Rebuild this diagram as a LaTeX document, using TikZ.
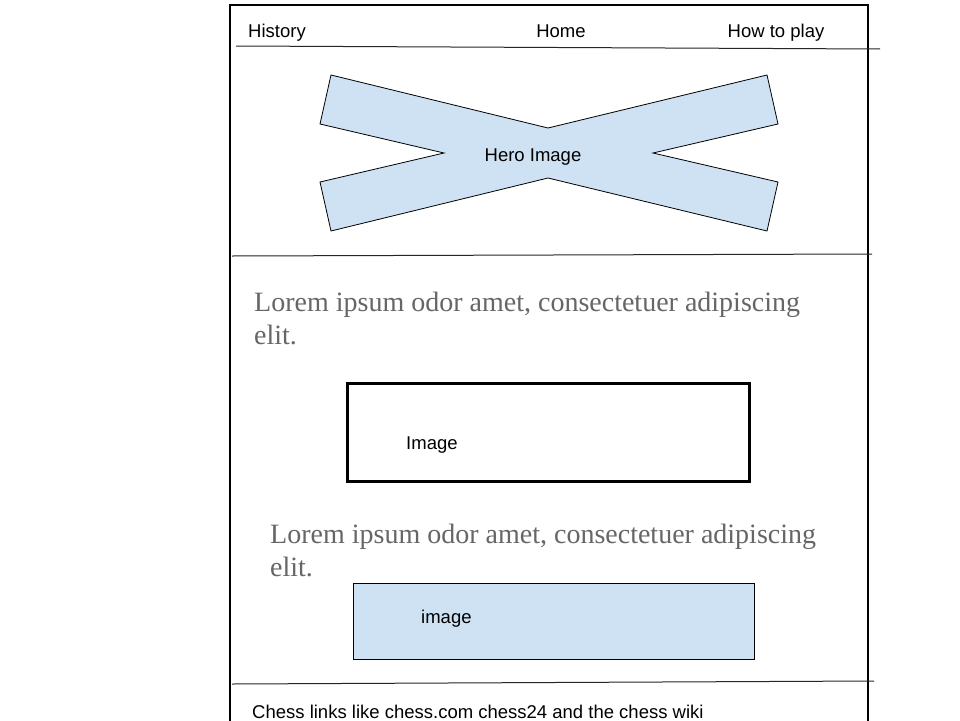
\documentclass[tikz,border=0pt]{standalone}
\usepackage{fontspec}
\setmainfont{Liberation Sans}
\newfontfamily\loremfont{Liberation Serif}
\definecolor{lightblue}{HTML}{CFE2F3}
\definecolor{loremgray}{HTML}{666666}
\begin{document}
\begin{tikzpicture}[x=1pt,y=-1pt,
  navtext/.style={font=\fontsize{18.5}{21}\selectfont, inner sep=0pt},
  lorem/.style={font=\loremfont\fontsize{28}{33}\selectfont, text=loremgray, align=left, inner sep=0pt},
  divider/.style={line width=1pt, black!85},
  frameline/.style={line width=2.8pt},
  imgbox/.style={draw, line width=2.5pt, fill=white},
  bluebox/.style={draw, line width=0.8pt, fill=lightblue}]
\useasboundingbox (0,0) rectangle (960,720);
\fill[white] (0,0) rectangle (960,720);
% outer frame
\draw[frameline] (230,722) -- (230,5) -- (868,5) -- (868,722);
% nav
\node[navtext, anchor=base west] (hist) at (248,37) {History};
\node[navtext, anchor=base] (home) at (561,37) {Home};
\node[navtext, anchor=base] (how) at (776,37) {How to play};
\coordinate (n1) at (236,46);
\coordinate (n2) at (880,49);
\draw[divider] (n1) -- (n2);
% hero
\draw[line width=0.8pt, fill=lightblue] (331,75) -- (548,128) -- (767,75) -- (778,124) -- (653,153) -- (778,182) -- (767,231) -- (548,178) -- (331,231) -- (320,182) -- (444,153) -- (320,124) -- cycle;
\node[navtext] (hero) at (533,157) {Hero Image};
\coordinate (d1) at (232,256);
\coordinate (d2) at (872,254);
\draw[divider] (d1) -- (d2);
% lorem 1
\node[lorem, anchor=base west] (lorem1) at (254,344) {Lorem ipsum odor amet, consectetuer adipiscing\\elit.};
% image box 1
\node[imgbox, minimum width=402pt, minimum height=98pt, anchor=north west] (img1) at (346,382) {};
\node[navtext, anchor=west] (img1t) at (406,445) {Image};
% lorem 2
\node[lorem, anchor=base west] (lorem2) at (270,576) {Lorem ipsum odor amet, consectetuer adipiscing\\elit.};
% image box 2
\node[bluebox, minimum width=401pt, minimum height=76pt, anchor=north west] (img2) at (353,583) {};
\node[navtext, anchor=west] (img2t) at (421,619) {image};
% footer
\coordinate (f1) at (232,684);
\coordinate (f2) at (874,681);
\draw[divider] (f1) -- (f2);
\node[navtext, anchor=base west] (foot) at (252,718) {Chess links like chess.com chess24 and the chess wiki};
\end{tikzpicture}
\end{document}
